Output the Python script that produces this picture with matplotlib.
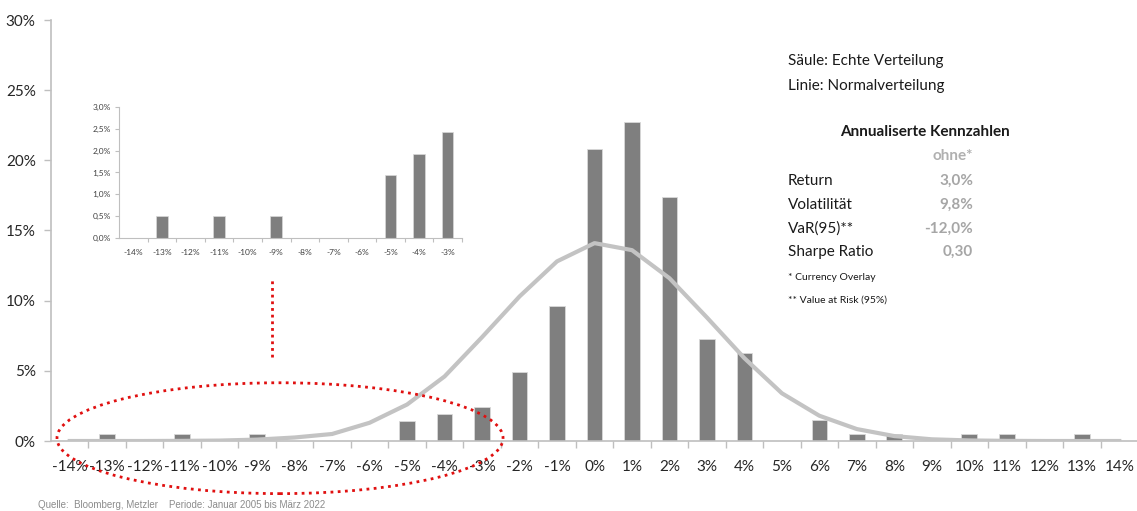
import matplotlib.pyplot as plt
from matplotlib.patches import Ellipse

# Daten (Monatsrenditen in %, Häufigkeit in %)
kategorien = list(range(-14, 15))
echte_verteilung = [0, 0.5, 0, 0.5, 0, 0.5, 0, 0, 0, 1.45, 1.93, 2.42, 4.9, 9.65,
                    20.8, 22.75, 17.4, 7.25, 6.3, 0, 1.5, 0.5, 0.5, 0, 0.5, 0.5, 0, 0.5, 0]
normalverteilung = [0, 0, 0, 0.01, 0.03, 0.1, 0.25, 0.5, 1.3, 2.6, 4.6, 7.4, 10.3, 12.8,
                    14.1, 13.6, 11.6, 8.8, 5.9, 3.4, 1.8, 0.85, 0.35, 0.12, 0.04, 0.01, 0, 0, 0]
x_labels = [f"{k}%" for k in kategorien]
y_ticks = [0, 5, 10, 15, 20, 25, 30]

# Ausschnitt linker Rand
inset_kat = kategorien[:12]
inset_werte = echte_verteilung[:12]
inset_y_ticks = [0, 0.5, 1.0, 1.5, 2.0, 2.5, 3.0]

kennzahlen = ["Return", "Volatilität", "VaR(95)**", "Sharpe Ratio"]
kennzahlen_werte = ["3,0%", "9,8%", "-12,0%", "0,30"]

plt.rcParams['font.family'] = ['Lato', 'DejaVu Sans']
achse_farbe = "#bfbfbf"
balken_farbe = "#7f7f7f"
text_farbe = "#262626"

fig = plt.figure(figsize=(11.37, 5.11), dpi=100)
ax = fig.add_axes([51 / 1137, 70 / 511, 1087 / 1137, 421 / 511])

ax.bar(kategorien, echte_verteilung, width=0.42, color=balken_farbe,
       edgecolor="#d9d9d9", linewidth=0.6, zorder=2)
ax.plot(kategorien, normalverteilung, color="#c3c3c3", linewidth=3, zorder=3)

ax.set_xlim(-14.5, 14.5)
ax.set_ylim(0, 30)
ax.set_yticks(y_ticks)
ax.set_yticklabels([f"{t}%" for t in y_ticks], fontsize=11, color=text_farbe)
ax.set_xticks(kategorien)
ax.set_xticklabels(x_labels, fontsize=11, color=text_farbe)
ax.set_xticks([k + 0.5 for k in kategorien[:-1]], minor=True)
ax.tick_params(axis="x", which="major", length=0, pad=14)
ax.tick_params(axis="x", which="minor", length=5, color=achse_farbe, width=1)
ax.tick_params(axis="y", length=5, color=achse_farbe, width=1, pad=6)
for s in ["top", "right"]:
    ax.spines[s].set_visible(False)
for s in ["left", "bottom"]:
    ax.spines[s].set_color(achse_farbe)
    ax.spines[s].set_linewidth(1.2)

# rote Markierung
ell = Ellipse((-8.39, 0.2), 11.9, 7.9, fill=False, edgecolor="#e01010",
              linestyle=(0, (1, 1.6)), linewidth=2, clip_on=False, zorder=5)
ax.add_patch(ell)
ax.plot([-8.61, -8.61], [6.0, 11.5], color="#e01010", linestyle=(0, (1, 1.4)),
        linewidth=2, clip_on=False, zorder=5)

# Inset
axi = fig.add_axes([119 / 1137, (511 - 238) / 511, 343 / 1137, 131 / 511])
axi.bar(inset_kat, inset_werte, width=0.4, color=balken_farbe,
        edgecolor="#d9d9d9", linewidth=0.5)
axi.set_xlim(-14.5, -2.5)
axi.set_ylim(0, 3.0)
axi.set_yticks(inset_y_ticks)
axi.set_yticklabels([f"{t:.1f}%".replace(".", ",") for t in inset_y_ticks],
                    fontsize=6, color="#404040")
axi.set_xticks(inset_kat)
axi.set_xticklabels([f"{k}%" for k in inset_kat], fontsize=6, color="#404040")
axi.set_xticks([k + 0.5 for k in inset_kat], minor=True)
axi.tick_params(axis="x", which="major", length=0, pad=8)
axi.tick_params(axis="x", which="minor", length=3, color=achse_farbe, width=0.8)
axi.tick_params(axis="y", length=3, color=achse_farbe, width=0.8, pad=3)
for s in ["top", "right"]:
    axi.spines[s].set_visible(False)
for s in ["left", "bottom"]:
    axi.spines[s].set_color(achse_farbe)
axi.patch.set_alpha(0)

# Textblock rechts
def px(x, y):
    return x / 1137, 1 - y / 511

fig.text(*px(788, 61), "Säule: Echte Verteilung", fontsize=11, va="center", color="#1a1a1a")
fig.text(*px(788, 86), "Linie: Normalverteilung", fontsize=11, va="center", color="#1a1a1a")
fig.text(*px(925, 132), "Annualiserte Kennzahlen", fontsize=11, fontweight="bold",
         va="center", ha="center", color="#1a1a1a")
fig.text(*px(973, 156), "ohne*", fontsize=11, fontweight="bold", va="center",
         ha="right", color="#b0b0b0")
for i, (name, wert) in enumerate(zip(kennzahlen, kennzahlen_werte)):
    y = 181 + i * 23.7
    fig.text(*px(788, y), name, fontsize=11, va="center", color="#1a1a1a")
    fig.text(*px(973, y), wert, fontsize=11, fontweight="bold", va="center",
             ha="right", color="#a6a6a6")
fig.text(*px(788, 278), "* Currency Overlay", fontsize=7.5, va="center", color="#1a1a1a")
fig.text(*px(788, 300), "** Value at Risk (95%)", fontsize=7.5, va="center", color="#1a1a1a")

fig.text(*px(38, 505), "Quelle:  Bloomberg, Metzler    Periode: Januar 2005 bis März 2022",
         fontsize=7, va="center", color="#8c8c8c", family=["Liberation Sans", "DejaVu Sans"])

fig.savefig("out.png", dpi=100)
